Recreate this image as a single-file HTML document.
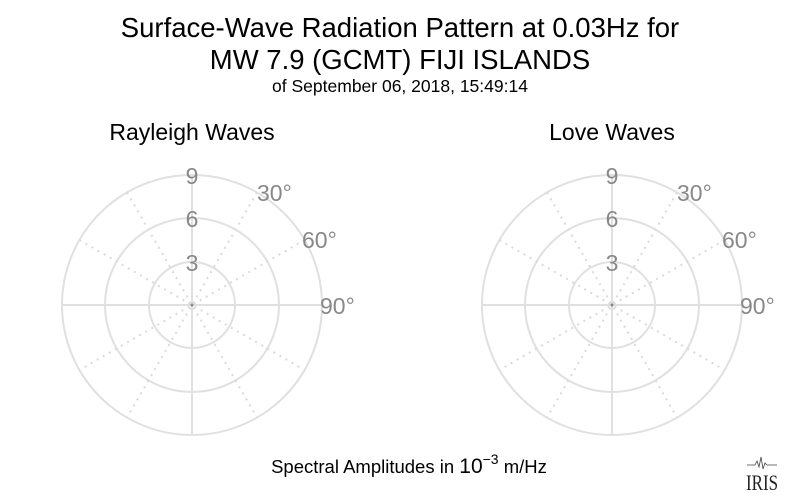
<!DOCTYPE html>
<html><head><style>body{margin:0;background:#fff}</style></head><body>
<svg width="800" height="496" xmlns="http://www.w3.org/2000/svg" font-family="Liberation Sans, sans-serif">
<rect width="800" height="496" fill="#fff"/>
<text x="400" y="37" font-size="27.5" text-anchor="middle" fill="#000">Surface-Wave Radiation Pattern at 0.03Hz for</text>
<text x="400" y="69" font-size="27.5" text-anchor="middle" fill="#000">MW 7.9 (GCMT) FIJI ISLANDS</text>
<text x="400" y="92" font-size="17.5" text-anchor="middle" fill="#000">of September 06, 2018, 15:49:14</text>
<text x="192" y="140" font-size="23" text-anchor="middle" fill="#000">Rayleigh Waves</text>
<text x="612" y="140" font-size="23" text-anchor="middle" fill="#000">Love Waves</text>
<defs>
<g id="p">
<g stroke="#e0e0e0" stroke-width="2" fill="none">
<circle r="130"/><circle r="87"/><circle r="43"/>
<line x1="-130" y1="0" x2="130" y2="0"/><line x1="0" y1="-130" x2="0" y2="130"/>
</g>
<g stroke="#dadada" stroke-width="2" stroke-dasharray="2,5">
<line x1="-65" y1="-112.6" x2="65" y2="112.6"/><line x1="65" y1="-112.6" x2="-65" y2="112.6"/>
<line x1="-112.6" y1="-65" x2="112.6" y2="65"/><line x1="112.6" y1="-65" x2="-112.6" y2="65"/>
</g>
<circle r="1.5" fill="#888"/>
<g fill="#888" font-size="23">
<text x="0" y="-121" text-anchor="middle">9</text>
<text x="0" y="-78" text-anchor="middle">6</text>
<text x="0" y="-34" text-anchor="middle">3</text>
<text x="65" y="-104">30°</text>
<text x="110" y="-57">60°</text>
<text x="128" y="9">90°</text>
</g>
</g>
</defs>
<use href="#p" x="192" y="305"/>
<use href="#p" x="612" y="305"/>
<text x="409" y="473" font-size="18.5" text-anchor="middle" fill="#000">Spectral Amplitudes in <tspan font-size="21">10</tspan><tspan font-size="14" dy="-9">−3</tspan><tspan dy="9"> m/Hz</tspan></text>
<path d="M747 465 h8 l2 -4 l2 6 l2 -10 l2 12 l2 -6 l2 2 h10" stroke="#444" fill="none" stroke-width="0.8"/>
<text x="762" y="490" font-size="22" font-family="Liberation Serif, serif" text-anchor="middle" fill="#222" textLength="32" lengthAdjust="spacingAndGlyphs">IRIS</text>
</svg>
</body></html>
